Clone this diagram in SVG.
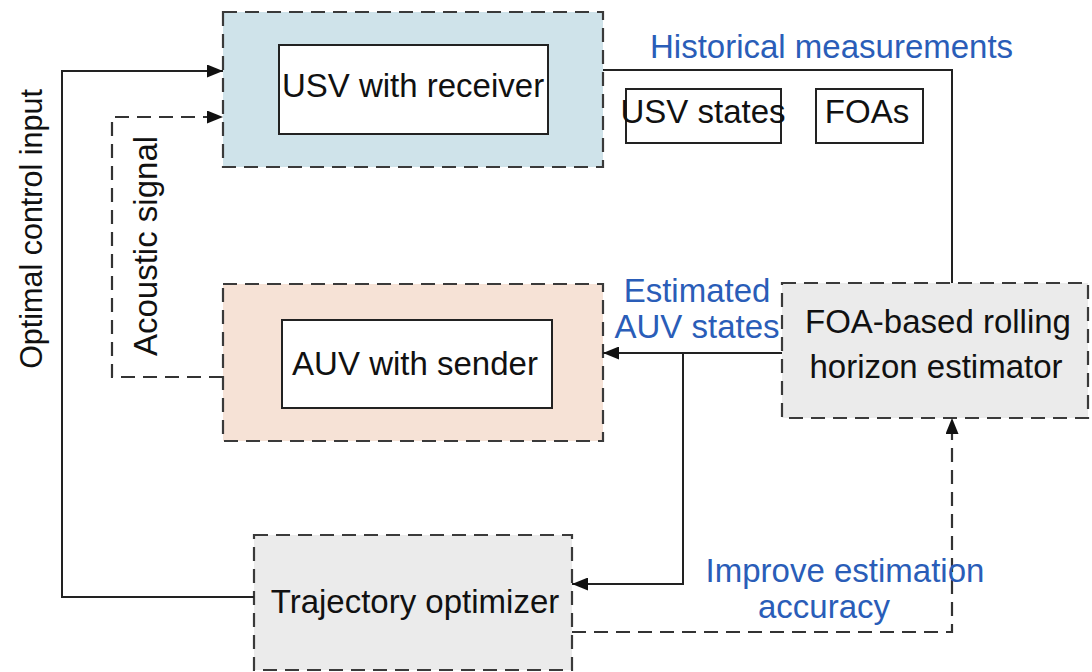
<svg xmlns="http://www.w3.org/2000/svg" width="1092" height="672" viewBox="0 0 1092 672">
<style>
.dbox{stroke:#3a3a3a;stroke-width:2.2;stroke-dasharray:14 8}
.ibox{fill:#fff;stroke:#222;stroke-width:2}
.t{font-family:"Liberation Sans",Arial,sans-serif;font-size:33px;fill:#111}
.b{font-family:"Liberation Sans",Arial,sans-serif;font-size:33px;fill:#2a5db8}
.ln{fill:none;stroke:#222;stroke-width:2}
.dl{fill:none;stroke:#333;stroke-width:2.2;stroke-dasharray:14 8}
</style>
<defs>
<marker id="ah" markerUnits="userSpaceOnUse" markerWidth="17" markerHeight="13" refX="16" refY="6.5" orient="auto">
<path d="M0,0 L16,6.5 L0,13 Z" fill="#111"/>
</marker>
</defs>
<rect width="1092" height="672" fill="#fff"/>
<g id="usv">
<rect class="dbox" x="223" y="12" width="380" height="155" fill="#cfe3ea"/>
<rect class="ibox" x="279" y="45" width="269" height="89"/>
<text class="t" x="413" y="97" text-anchor="middle">USV with receiver</text>
</g>
<g id="usv-states">
<rect class="ibox" x="626" y="89" width="155" height="54"/>
<text class="t" x="703" y="123" text-anchor="middle">USV states</text>
</g>
<g id="foas">
<rect class="ibox" x="816" y="89" width="107" height="54"/>
<text class="t" x="867" y="123" text-anchor="middle">FOAs</text>
</g>
<g id="auv">
<rect class="dbox" x="223" y="284" width="380" height="157" fill="#f6e2d6"/>
<rect class="ibox" x="282" y="320" width="270" height="88"/>
<text class="t" x="415" y="375" text-anchor="middle">AUV with sender</text>
</g>
<g id="estimator">
<rect class="dbox" x="782" y="283" width="306" height="135" fill="#ebebeb"/>
<text class="t" x="938" y="333" text-anchor="middle">FOA-based rolling</text>
<text class="t" x="936" y="378" text-anchor="middle">horizon estimator</text>
</g>
<g id="optimizer">
<rect class="dbox" x="254" y="535" width="318" height="135" fill="#ebebeb"/>
<text class="t" x="415" y="613" text-anchor="middle">Trajectory optimizer</text>
</g>
<g id="connectors">
<path class="ln" d="M254,597 H62 V71 H223" marker-end="url(#ah)"/>
<path class="dl" d="M223,377 H112 V117 H223" marker-end="url(#ah)"/>
<path class="ln" d="M603,70 H952 V283"/>
<path class="ln" d="M782,353 H603" marker-end="url(#ah)"/>
<path class="ln" d="M683,353 V584 H572" marker-end="url(#ah)"/>
<path class="dl" d="M572,632 H952 V418" marker-end="url(#ah)"/>
</g>
<g id="labels">
<text class="t" transform="translate(42,229) rotate(-90)" text-anchor="middle" style="font-size:30.5px">Optimal control input</text>
<text class="t" transform="translate(157,246) rotate(-90)" text-anchor="middle">Acoustic signal</text>
<text class="b" x="650" y="58">Historical measurements</text>
<text class="b" x="697" y="302" text-anchor="middle">Estimated</text>
<text class="b" x="697" y="338" text-anchor="middle">AUV states</text>
<text class="b" x="845" y="582" text-anchor="middle">Improve estimation</text>
<text class="b" x="824" y="618" text-anchor="middle">accuracy</text>
</g>
</svg>
